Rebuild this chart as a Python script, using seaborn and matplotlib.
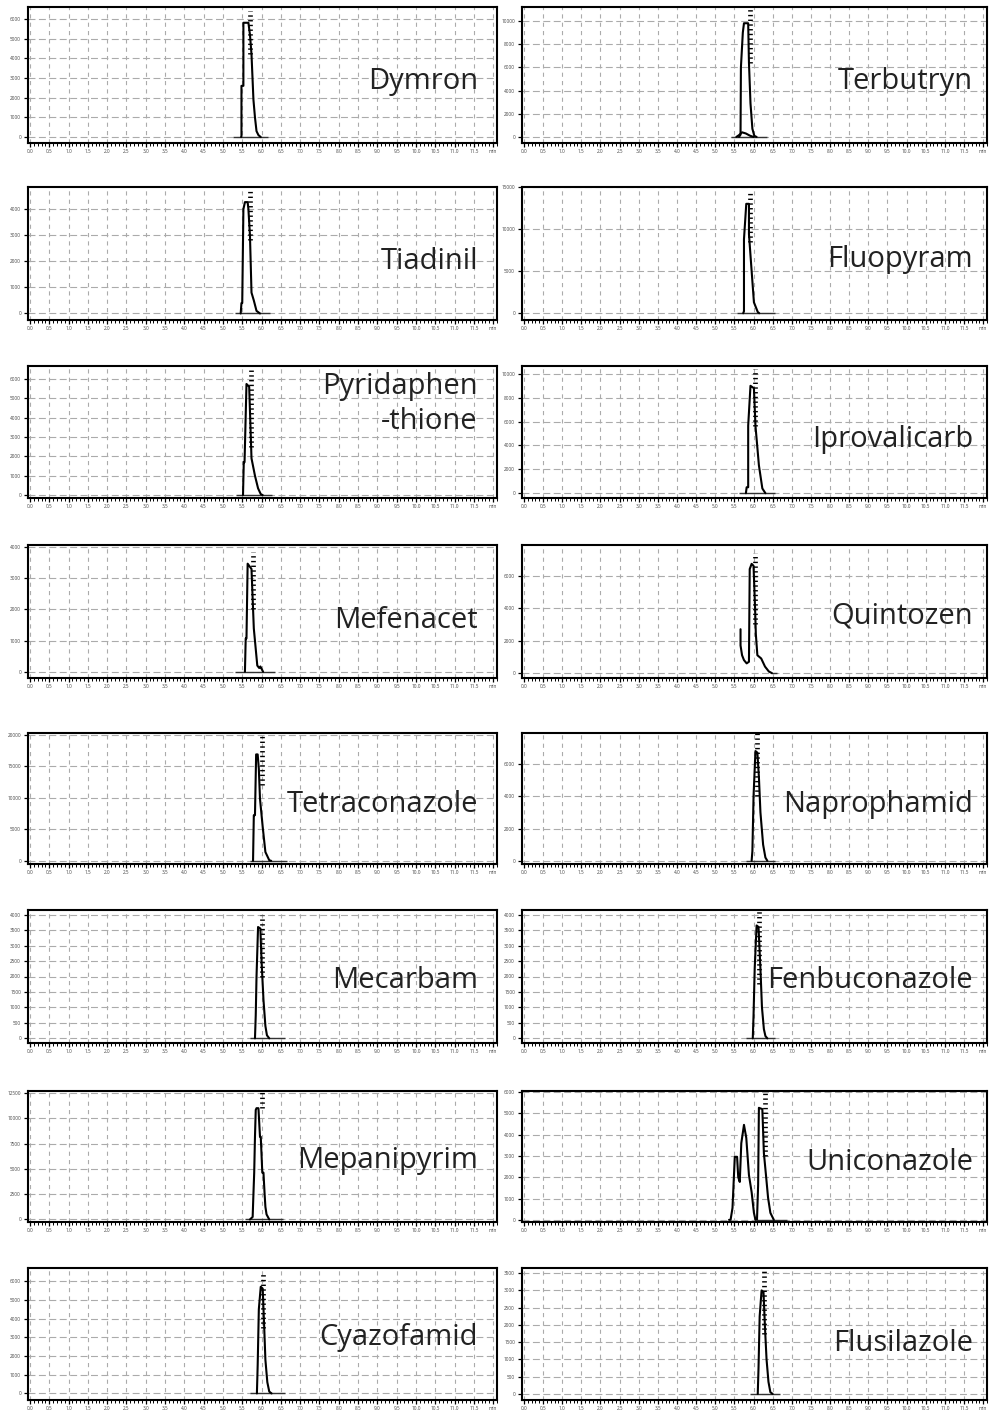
import numpy as np
import pandas as pd
import matplotlib
matplotlib.use("Agg")
import matplotlib.pyplot as plt
import seaborn as sns
from matplotlib.ticker import MultipleLocator, FixedLocator

sns.set_theme(style="white")
plt.rcParams['font.family'] = ['Open Sans', 'DejaVu Sans']
plt.rcParams['lines.scale_dashes'] = False

# ---------------- data ----------------
COMPOUNDS = ["Dymron", "Terbutryn", "Tiadinil", "Fluopyram",
             "Pyridaphen\n-thione", "Iprovalicarb", "Mefenacet", "Quintozen",
             "Tetraconazole", "Naprophamid", "Mecarbam", "Fenbuconazole",
             "Mepanipyrim", "Uniconazole", "Cyazofamid", "Flusilazole"]

# number of y-tick intervals shown and value per interval
Y_TICKS = [6, 5, 4, 3, 6, 5, 4, 3, 4, 3, 8, 8, 5, 6, 6, 7]
Y_STEP = [1000, 2000, 1000, 5000, 1000, 2000, 1000, 2000,
          5000, 2000, 500, 500, 2500, 1000, 1000, 500]
Y_LOW = [-0.3, -0.26, -0.25, -0.16, -0.15, -0.2, -0.2, -0.15,
         -0.1, -0.1, -0.3, -0.3, -0.1, -0.1, -0.35, -0.35]
Y_HIGH = [6.6, 5.6, 4.85, 3.0, 6.67, 5.33, 4.07, 3.94,
          4.06, 3.96, 8.3, 8.3, 5.08, 6.05, 6.7, 7.3]

NaN = np.nan
TRACE_X = [
    [5.47, 5.48, 5.48, 5.53, 5.53, 5.66, 5.70, 5.74, 5.79, 5.83, 5.87, 5.92, 5.98],
    [5.62, 5.66, 5.67, 5.72, 5.75, 5.86, 5.88, 5.92, 5.97, 6.02, 6.08, NaN,
     5.55, 5.62, 5.70, 5.80, 5.90, 6.00],
    [5.46, 5.48, 5.50, 5.53, 5.57, 5.64, 5.66, 5.70, 5.74, 5.80, 5.87, 5.96],
    [5.73, 5.75, 5.75, 5.81, 5.88, 5.88, 5.94, 6.01, 6.11, 6.15],
    [5.52, 5.54, 5.56, 5.61, 5.68, 5.74, 5.83, 5.91, 5.98, 6.03],
    [5.80, 5.82, 5.86, 5.86, 5.92, 6.01, 6.05, 6.14, 6.23, 6.31],
    [5.57, 5.59, 5.61, 5.64, 5.74, 5.80, 5.89, 5.94, 5.97, 6.04],
    [5.66, 5.66, 5.70, 5.75, 5.82, 5.88, 5.90, 5.95, 6.00, 6.04, 6.06, 6.10,
     6.20, 6.30, 6.40, 6.48],
    [5.78, 5.80, 5.83, 5.86, 5.90, 5.93, 5.96, 6.03, 6.10, 6.20, 6.25],
    [5.95, 5.97, 6.00, 6.05, 6.10, 6.14, 6.18, 6.25, 6.31, 6.36],
    [5.83, 5.85, 5.87, 5.91, 5.97, 6.00, 6.05, 6.10, 6.14, 6.20],
    [5.98, 6.00, 6.03, 6.08, 6.13, 6.18, 6.22, 6.27, 6.31, 6.36],
    [5.70, 5.77, 5.79, 5.81, 5.83, 5.85, 5.87, 5.92, 5.96, 5.98, 6.02, 6.05,
     6.08, 6.10, 6.13, 6.20],
    [5.36, 5.40, 5.45, 5.51, 5.57, 5.60, 5.64, 5.68, 5.75, 5.81, 5.88, 5.95,
     6.01, 6.05, NaN, 6.09, 6.12, 6.14, 6.23, 6.27, 6.33, 6.38, 6.44, 6.53],
    [5.88, 5.90, 5.93, 5.98, 6.03, 6.07, 6.10, 6.15, 6.20, 6.26],
    [6.11, 6.13, 6.16, 6.21, 6.26, 6.30, 6.34, 6.39, 6.44, 6.50],
]
TRACE_Y = [
    [0, 0.05, 2.6, 2.6, 5.8, 5.8, 5.2, 4.2, 1.9, 1.0, 0.3, 0.1, 0],
    [0, 0.1, 3.0, 4.5, 4.9, 4.9, 3.2, 1.45, 0.35, 0.05, 0, NaN,
     0, 0.08, 0.2, 0.15, 0.06, 0],
    [0, 0.4, 0.4, 4.0, 4.27, 4.27, 4.0, 3.0, 0.8, 0.5, 0.1, 0],
    [0, 0.05, 1.76, 2.6, 2.6, 1.88, 1.13, 0.26, 0.03, 0],
    [0, 1.7, 1.7, 5.74, 5.6, 1.9, 1.0, 0.35, 0.05, 0],
    [0, 0.25, 0.25, 2.83, 4.5, 4.4, 2.83, 1.17, 0.2, 0],
    [0, 1.07, 1.07, 3.47, 3.3, 1.39, 0.2, 0.12, 0.17, 0],
    [1.35, 0.85, 0.55, 0.40, 0.30, 0.35, 3.2, 3.36, 3.3, 2.0, 1.2, 0.55,
     0.45, 0.2, 0.05, 0],
    [0, 1.45, 1.45, 3.38, 3.38, 2.92, 1.97, 1.08, 0.28, 0.02, 0],
    [0, 0.3, 2.0, 3.4, 3.35, 2.6, 1.5, 0.5, 0.1, 0],
    [0, 1.5, 4.0, 7.2, 7.1, 5.0, 2.5, 0.8, 0.2, 0],
    [0, 1.5, 4.5, 7.3, 7.2, 4.5, 2.0, 0.6, 0.15, 0],
    [0, 0.1, 1.0, 1.85, 3.27, 4.33, 4.4, 4.4, 3.27, 3.27, 1.85, 1.85,
     1.0, 0.5, 0.2, 0],
    [0, 0, 0.56, 2.96, 2.96, 2.0, 1.78, 3.6, 4.46, 3.85, 2.1, 1.3,
     0.33, 0, NaN, 0, 1.64, 5.26, 5.2, 3.14, 2.0, 1.03, 0.33, 0],
    [0, 1.5, 4.5, 5.7, 5.6, 3.5, 1.8, 0.6, 0.1, 0],
    [0, 1.5, 4.5, 6.0, 5.9, 3.8, 2.0, 0.7, 0.1, 0],
]

BASE_START = [5.26, 5.40, 5.31, 5.58, 5.35, 5.62, 5.31, 6.45,
              5.70, 5.79, 5.70, 5.79, 5.57, 6.09, 5.70, 5.92]
BASE_END = [6.17, 6.36, 6.22, 6.57, 6.26, 6.57, 6.35, 6.62,
            6.65, 6.57, 6.60, 6.57, 6.56, 6.88, 6.60, 6.70]

MARK_X = [5.70, 5.92, 5.70, 5.90, 5.74, 6.05, 5.78, 6.05,
          6.00, 6.10, 6.00, 6.13, 6.00, 6.29, 6.05, 6.27]
MARK_LO = [4.2, 3.2, 2.8, 1.7, 2.5, 2.8, 2.0, 1.5,
           2.4, 2.0, 4.0, 3.5, 4.4, 3.0, 3.5, 3.5]
MARK_HI = [6.4, 5.5, 4.73, 2.9, 6.6, 5.2, 3.85, 3.7,
           3.97, 3.95, 8.0, 8.3, 5.05, 6.05, 6.4, 7.1]

X_TICKS = np.arange(0, 12.01, 0.5)
X_LABELS = [f"{v:.1f}" for v in X_TICKS[:-1]] + ["min"]

TEXT_Y = [0.40, 0.40, 0.38, 0.40, 0.52, 0.39, 0.376, 0.41,
          0.40, 0.40, 0.41, 0.41, 0.41, 0.40, 0.42, 0.37]

# ---------------- layout ----------------
W, H = 989, 1413
ROW_TOP = [7, 187, 366, 545, 733, 910, 1091, 1268]
ROW_BOT = [143, 320, 498, 678, 864, 1043, 1222, 1400]
COL_LEFT = [28, 522]
COL_RIGHT = [497, 987]
TEXT_X = [0.959, 0.970]

fig = plt.figure(figsize=(W / 100, H / 100), dpi=100)

for i, name in enumerate(COMPOUNDS):
    r, c = divmod(i, 2)
    ax = fig.add_axes([COL_LEFT[c] / W, 1 - ROW_BOT[r] / H,
                       (COL_RIGHT[c] - COL_LEFT[c]) / W,
                       (ROW_BOT[r] - ROW_TOP[r]) / H])
    ax.set_xlim(-0.05, 12.1)
    ax.set_ylim(Y_LOW[i], Y_HIGH[i])

    # grid
    yt = np.arange(0, Y_TICKS[i] + 1)
    ax.xaxis.set_major_locator(FixedLocator(X_TICKS))
    ax.xaxis.set_minor_locator(MultipleLocator(0.1))
    ax.set_xticklabels(X_LABELS)
    ax.yaxis.set_major_locator(FixedLocator(yt))
    ax.set_yticklabels([str(int(k * Y_STEP[i])) for k in yt])
    ax.xaxis.grid(True, which='major', color='#ababab', lw=0.8,
                  linestyle=(0, (3.0, 3.0)))
    ax.yaxis.grid(True, which='major', color='#ababab', lw=0.8,
                  linestyle=(0, (5.0, 2.5)))
    ax.set_axisbelow(True)

    ax.tick_params(axis='x', which='major', direction='out', length=3,
                   width=0.9, labelsize=3.4, pad=1.2, colors='black',
                   bottom=True)
    ax.tick_params(axis='x', which='minor', direction='out', length=2.0,
                   width=0.7, bottom=True, colors='black')
    ax.tick_params(axis='y', which='major', direction='out', length=3,
                   width=0.9, labelsize=3.4, pad=2, colors='black', left=True)
    for lab in ax.get_xticklabels() + ax.get_yticklabels():
        lab.set_color('#444444')

    for sp in ax.spines.values():
        sp.set_color('black')
        sp.set_linewidth(1.5)

    # baseline
    ax.hlines(0, BASE_START[i], BASE_END[i], color='#333333', lw=1.0, zorder=2)

    # chromatogram trace
    xs = np.array(TRACE_X[i], dtype=float)
    ys = np.array(TRACE_Y[i], dtype=float)
    seg = np.cumsum(np.isnan(xs))
    df = pd.DataFrame({"x": xs, "y": ys, "seg": seg}).dropna()
    sns.lineplot(data=df, x="x", y="y", units="seg", estimator=None,
                 sort=False, color='black', lw=1.5, ax=ax, legend=False,
                 zorder=3)

    # stacked ion marks at apex
    ax.vlines(MARK_X[i], MARK_LO[i], MARK_HI[i], color='black', lw=3.4,
              linestyles=[(0, (1.0, 2.4))], zorder=4)

    ax.set_xlabel("")
    ax.set_ylabel("")

    ax.text(TEXT_X[c], TEXT_Y[i], name, transform=ax.transAxes,
            ha='right', va='baseline', multialignment='right',
            fontsize=21, color='#222222', linespacing=1.3, zorder=5)

fig.savefig("out.png", dpi=100)
